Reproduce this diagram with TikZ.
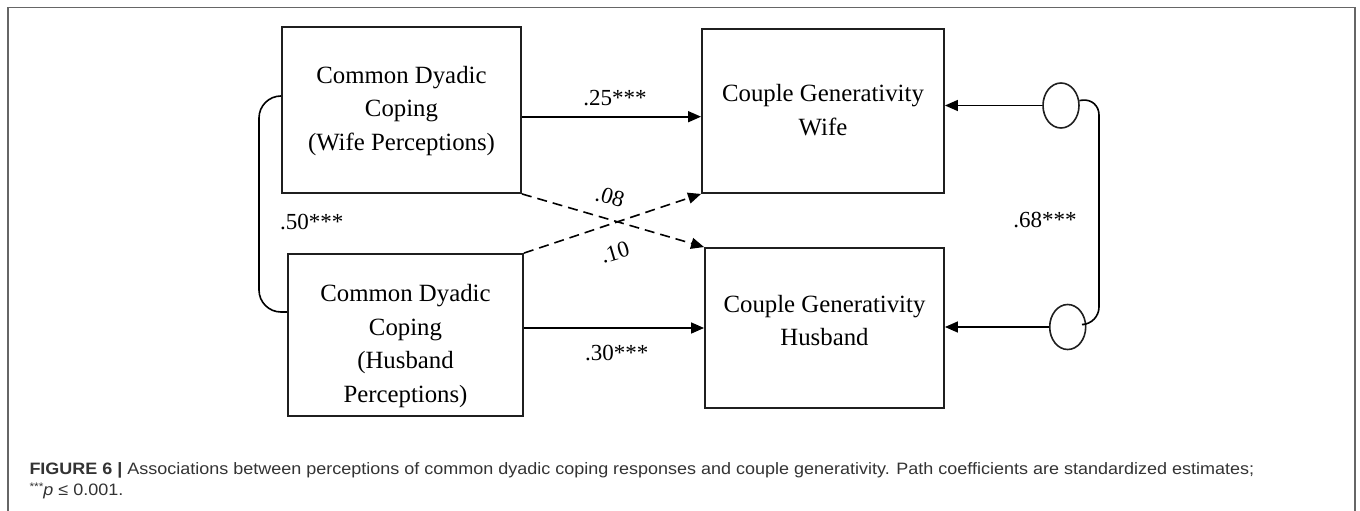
\documentclass[tikz,border=0pt]{standalone}
\usepackage{fontspec}
\setmainfont{Liberation Serif}
\newfontfamily\capfont[FakeStretch=1.09]{Liberation Sans}
\usetikzlibrary{arrows.meta,shapes.geometric}
\tikzset{
 boxs/.style={draw=black!88,line width=1.9pt,inner sep=0pt,rectangle},
 txt/.style={font=\fontsize{24.8}{33.5}\selectfont,align=center,inner sep=0pt},
 lab/.style={font=\fontsize{23}{27}\selectfont,inner sep=0pt},
 arr/.style={line width=1.6pt,-{Triangle[length=13pt,width=11pt]}},
 dsh/.style={arr,dash pattern=on 10pt off 6pt},
 err/.style={draw=black!88,line width=1.6pt,ellipse,minimum width=36pt,minimum height=45pt,inner sep=0pt},
 cov/.style={line width=1.6pt},
 captxt/.style={font=\capfont\fontsize{16.5}{20.3}\selectfont,text=black!80,inner sep=0pt,anchor=base west},
 outframe/.style={draw=black!60,line width=1.5pt}
}
\begin{document}
\begin{tikzpicture}[x=1pt,y=-1pt]
\useasboundingbox (0,0) rectangle (1360,511);
\draw[outframe] (8,512) -- (8,7.3) -- (1355,7.3) -- (1355,512);

% boxes
\node[boxs,minimum width=239pt,minimum height=166pt] (cdw) at (401.5,110) {};
\node[txt] (cdwt) at (401.5,111) {Common Dyadic\\Coping\\(Wife Perceptions)};
\node[boxs,minimum width=235pt,minimum height=162pt] (cdh) at (405.5,335) {};
\node[txt] (cdht) at (405.5,346) {Common Dyadic\\Coping\\(Husband\\Perceptions)};
\node[boxs,minimum width=242pt,minimum height=164pt] (cgw) at (823,111) {};
\node[txt] (cgwt) at (823,110) {Couple Generativity\\Wife};
\node[boxs,minimum width=239pt,minimum height=160pt] (cgh) at (824.5,328) {};
\node[txt] (cght) at (824.5,320.5) {Couple Generativity\\Husband};

% residual circles
\node[err] (ew) at (1061,105.5) {};
\node[err] (eh) at (1067.7,327) {};

% paths
\draw[arr] ([yshift=-6.7pt]cdw.east) -- ([yshift=-6.7pt]cdw.east -| cgw.west);
\draw[arr] ([yshift=7pt]cdh.east) -- ([yshift=7pt]cdh.east -| cgh.west);
\draw[dsh] (cdw.south east) -- (cgh.north west);
\draw[dsh] (cdh.north east) -- (cgw.south west);
\draw[arr] (ew.west) -- (ew.west -| cgw.east);
\draw[arr] (eh.west) -- (eh.west -| cgh.east);

% covariances
\draw[cov,rounded corners=22pt] ([yshift=14pt]cdw.west) -- (259,96) -- (259,312) -- ([yshift=23pt]cdh.west);
\draw[cov,rounded corners=17pt] (ew.15) -- (1099,98) -- (1099,324) -- (eh.8);

% labels
\node[lab] (l25) at (615,98.3) {.25***};
\node[lab] (l30) at (616.7,353) {.30***};
\node[lab] (l50) at (311.7,221.7) {.50***};
\node[lab] (l68) at (1045,220) {.68***};
\node[lab,rotate=-16.6] (l08) at (610,197) {.08};
\node[lab,rotate=16.6] (l10) at (615,252.5) {.10};

% caption
\node[captxt] (capa) at (29.3,474.7) {\textbf{FIGURE 6 |} Associations between perceptions of common dyadic coping responses and couple generativity. Path coefficients are standardized estimates;};
\node[captxt] (capb) at (29.3,495) {\raisebox{5pt}{\fontsize{11}{11}\selectfont ***}\textit{p} ≤ 0.001.};
\end{tikzpicture}
\end{document}
